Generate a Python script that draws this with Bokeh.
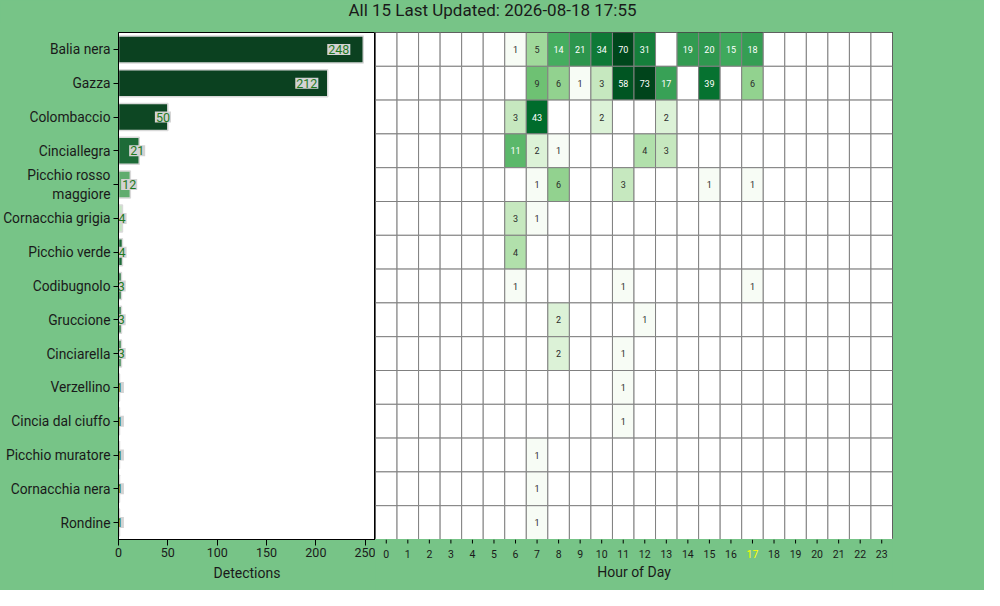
from bokeh.plotting import figure
from bokeh.models import (ColumnDataSource, FactorRange, Range1d, LogColorMapper,
                          SingleIntervalTicker)
from bokeh.layouts import column, row
from bokeh.palettes import Greens256
from bokeh.transform import transform
from bokeh.core.properties import value
from bokeh.embed import file_html
from bokeh.resources import INLINE

# ---------------- data ----------------
title_text = "All 15 Last Updated: 2026-08-18 17:55"
species = ["Balia nera", "Gazza", "Colombaccio", "Cinciallegra", "Picchio rosso maggiore",
           "Cornacchia grigia", "Picchio verde", "Codibugnolo", "Gruccione", "Cinciarella",
           "Verzellino", "Cincia dal ciuffo", "Picchio muratore", "Cornacchia nera", "Rondine"]
counts = [248, 212, 50, 21, 12, 4, 4, 3, 3, 3, 1, 1, 1, 1, 1]
hours = list(range(24))
hour_labels = [str(h) for h in hours]
current_hour = 17
x_title_bar = "Detections"
x_title_heat = "Hour of Day"

balia_nera_h        = [0,0,0,0,0,0, 1,5,14,21,34,70, 31,0,19,20,15,18, 0,0,0,0,0,0]
gazza_h             = [0,0,0,0,0,0, 0,9,6,1,3,58, 73,17,0,39,0,6, 0,0,0,0,0,0]
colombaccio_h       = [0,0,0,0,0,0, 3,43,0,0,2,0, 0,2,0,0,0,0, 0,0,0,0,0,0]
cinciallegra_h      = [0,0,0,0,0,0, 11,2,1,0,0,0, 4,3,0,0,0,0, 0,0,0,0,0,0]
picchio_rosso_h     = [0,0,0,0,0,0, 0,1,6,0,0,3, 0,0,0,1,0,1, 0,0,0,0,0,0]
cornacchia_grigia_h = [0,0,0,0,0,0, 3,1,0,0,0,0, 0,0,0,0,0,0, 0,0,0,0,0,0]
picchio_verde_h     = [0,0,0,0,0,0, 4,0,0,0,0,0, 0,0,0,0,0,0, 0,0,0,0,0,0]
codibugnolo_h       = [0,0,0,0,0,0, 1,0,0,0,0,1, 0,0,0,0,0,1, 0,0,0,0,0,0]
gruccione_h         = [0,0,0,0,0,0, 0,0,2,0,0,0, 1,0,0,0,0,0, 0,0,0,0,0,0]
cinciarella_h       = [0,0,0,0,0,0, 0,0,2,0,0,1, 0,0,0,0,0,0, 0,0,0,0,0,0]
verzellino_h        = [0,0,0,0,0,0, 0,0,0,0,0,1, 0,0,0,0,0,0, 0,0,0,0,0,0]
cincia_ciuffo_h     = [0,0,0,0,0,0, 0,0,0,0,0,1, 0,0,0,0,0,0, 0,0,0,0,0,0]
picchio_muratore_h  = [0,0,0,0,0,0, 0,1,0,0,0,0, 0,0,0,0,0,0, 0,0,0,0,0,0]
cornacchia_nera_h   = [0,0,0,0,0,0, 0,1,0,0,0,0, 0,0,0,0,0,0, 0,0,0,0,0,0]
rondine_h           = [0,0,0,0,0,0, 0,1,0,0,0,0, 0,0,0,0,0,0, 0,0,0,0,0,0]

hourly = [balia_nera_h, gazza_h, colombaccio_h, cinciallegra_h, picchio_rosso_h,
          cornacchia_grigia_h, picchio_verde_h, codibugnolo_h, gruccione_h, cinciarella_h,
          verzellino_h, cincia_ciuffo_h, picchio_muratore_h, cornacchia_nera_h, rondine_h]

# ---------------- style ----------------
BG = "#77c487"
FONT = "Roboto"
TXT = "#1a1a1a"
bar_colors = ["#0b4120", "#0b4120", "#0d4723", "#1d6b38", "#60ac6e",
              "#c5e5c2", "#1e6c39", "#2a7a43", "#2e7e47", "#3b8a50",
              "#8cc893", "#8cc893", "#8cc893", "#8cc893", "#8cc893"]

# wrapped display names for the category axis
display = [s.replace("Picchio rosso maggiore", "Picchio rosso\nmaggiore") for s in species]
factors = list(reversed(display))

# ---------------- title ----------------
pt = figure(width=984, height=22, x_range=Range1d(0, 1), y_range=Range1d(0, 1),
            output_backend="svg", toolbar_location=None, min_border=0)
pt.axis.visible = False
pt.grid.visible = False
pt.outline_line_color = None
pt.background_fill_color = BG
pt.border_fill_color = BG
pt.text(x=[0.5], y=[0.57], text=[title_text], text_font=value(FONT), text_font_size="17px",
        text_align="center", text_baseline="middle", text_color=TXT)

# ---------------- bar chart ----------------
bar_src = ColumnDataSource(dict(
    species=display, count=counts, color=bar_colors,
    lx=[c * 0.9 for c in counts], lab=[str(c) for c in counts]))

pb = figure(width=375, height=568, y_range=FactorRange(factors=factors),
            x_range=Range1d(0, max(counts) * 1.05),
            output_backend="svg", toolbar_location=None,
            min_border_left=117, min_border_right=0, min_border_top=10, min_border_bottom=51)
pb.hbar(y="species", right="count", height=0.8, fill_color="color", line_color="#d9d9d9",
        line_width=1.5, source=bar_src)
pb.text(x="lx", y="species", text="lab", source=bar_src, text_font=value(FONT),
        text_font_size="12.5px", text_align="center", text_baseline="middle",
        text_color="#1f7a1f", background_fill_color="#d3d3d3", padding=1)
pb.background_fill_color = "white"
pb.border_fill_color = BG
pb.outline_line_color = "black"
pb.grid.visible = False
pb.xaxis.ticker = SingleIntervalTicker(interval=50, num_minor_ticks=0)
pb.xaxis.axis_label = x_title_bar
for ax in (pb.xaxis[0], pb.yaxis[0]):
    ax.axis_line_color = "black"
    ax.major_tick_line_color = "black"
    ax.major_tick_in = 0
    ax.minor_tick_line_color = None
    ax.major_label_text_font = FONT
    ax.major_label_text_color = TXT
    ax.axis_label_text_font = FONT
    ax.axis_label_text_font_style = "normal"
    ax.axis_label_text_font_size = "14px"
    ax.axis_label_text_color = TXT
pb.xaxis.major_tick_out = 6
pb.xaxis.major_label_standoff = 2
pb.xaxis.major_label_text_font_size = "12.5px"
pb.xaxis.axis_label_standoff = 5
pb.yaxis.major_tick_out = 5
pb.yaxis.major_label_standoff = 3
pb.yaxis.major_label_text_font_size = "13.8px"

# ---------------- heatmap ----------------
hx, hy, hv, hlab, hcol = [], [], [], [], []
for sp, vals in zip(display, hourly):
    for h, v in zip(hours, vals):
        hx.append(h)
        hy.append(sp)
        hv.append(float(v) if v > 0 else float("nan"))
        hlab.append(str(v) if v > 0 else "")
        hcol.append("white" if v >= 10 else "#2b2b2b")
heat_src = ColumnDataSource(dict(hour=hx, species=hy, val=hv, lab=hlab, tcol=hcol))
txt_src = ColumnDataSource(dict(
    hour=[x for x, l in zip(hx, hlab) if l], species=[y for y, l in zip(hy, hlab) if l],
    lab=[l for l in hlab if l], tcol=[c for c, l in zip(hcol, hlab) if l]))

mapper = LogColorMapper(palette=list(Greens256)[::-1], low=1, high=73, nan_color="white")

heat_x = Range1d(-0.5, 23.5)
ph = figure(width=609, height=517, y_range=FactorRange(factors=factors),
            x_range=heat_x, output_backend="svg", toolbar_location=None,
            min_border_left=0, min_border_right=92, min_border_top=10, min_border_bottom=0)
ph.rect(x="hour", y="species", width=1, height=1, source=heat_src,
        fill_color=transform("val", mapper), line_color="#808080", line_width=1)
ph.text(x="hour", y="species", text="lab", source=txt_src, text_color="tcol",
        text_font=value(FONT), text_font_size="9px", text_align="center",
        text_baseline="middle")
ph.background_fill_color = "white"
ph.border_fill_color = BG
ph.outline_line_color = "black"
ph.grid.visible = False
ph.axis.visible = False

# hour ticks, tick labels (current hour highlighted) and axis title under the heatmap
pax = figure(width=609, height=51, x_range=heat_x, y_range=Range1d(0, 51),
             output_backend="svg", toolbar_location=None,
             min_border_left=0, min_border_right=92, min_border_top=0, min_border_bottom=0)
pax.axis.visible = False
pax.grid.visible = False
pax.outline_line_color = None
pax.background_fill_color = BG
pax.border_fill_color = BG
lab_src = ColumnDataSource(dict(
    hour=hours, lab=hour_labels, ly=[37] * len(hours), t0=[51] * len(hours), t1=[47] * len(hours),
    col=["yellow" if h == current_hour else TXT for h in hours]))
pax.segment(x0="hour", x1="hour", y0="t0", y1="t1", source=lab_src,
            line_color="black", line_width=1)
pax.text(x="hour", y="ly", text="lab", text_color="col", source=lab_src,
         text_font=value(FONT), text_font_size="10.5px", text_align="center",
         text_baseline="middle")
pax.text(x=[11.5], y=[19], text=[x_title_heat], text_font=value(FONT), text_font_size="14px",
         text_align="center", text_baseline="middle", text_color=TXT)

layout = column(pt,
                row(pb, column(ph, pax, spacing=0, styles={"background-color": BG}),
                    spacing=0, styles={"background-color": BG}),
                spacing=0, styles={"background-color": BG})
open("out.html", "w").write(file_html(layout, INLINE))
